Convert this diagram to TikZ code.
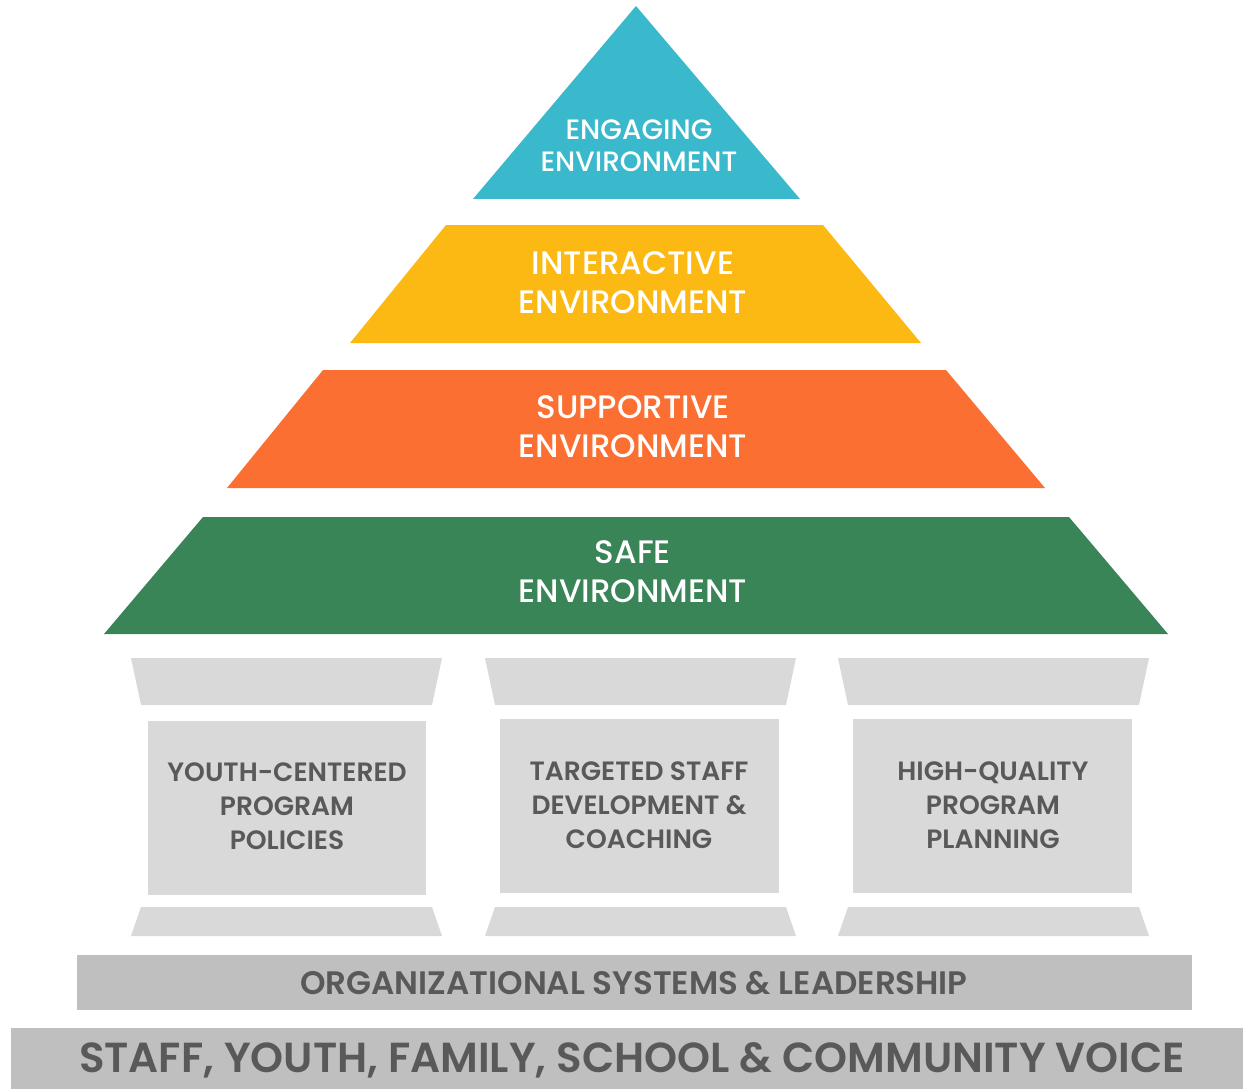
\documentclass[tikz,border=0pt]{standalone}
\usepackage{fontspec}
\setmainfont{Poppins}[UprightFont=*-Medium,BoldFont=*-SemiBold]
\definecolor{teal}{HTML}{3BB9CC}
\definecolor{gold}{HTML}{FDB913}
\definecolor{orng}{HTML}{FB6F32}
\definecolor{grn}{HTML}{3A8558}
\definecolor{pill}{HTML}{D9D9D9}
\definecolor{barg}{HTML}{BFBFBF}
\definecolor{txtg}{HTML}{595959}
\begin{document}
\begin{tikzpicture}[x=1pt,y=-1pt,
  tier/.style={font=\fontsize{32.5}{39}\selectfont, text=white, align=center},
  pilltext/.style={font=\bfseries\fontsize{26.5}{34}\selectfont, text=txtg, align=center},
  bartext/.style={font=\bfseries\fontsize{32.5}{36}\selectfont, text=txtg},
  bigtext/.style={font=\bfseries\fontsize{42}{48}\selectfont, text=txtg}]
\useasboundingbox[fill=white] (0,0) rectangle (1243,1089);
% pyramid
\fill[teal] (636,6) -- (800,199) -- (473,199) -- cycle;
\fill[gold] (446,225) -- (823,225) -- (921,343) -- (350,343) -- cycle;
\fill[orng] (323,370) -- (946,370) -- (1045,488) -- (227,488) -- cycle;
\fill[grn] (203,517) -- (1069,517) -- (1168,634) -- (104,634) -- cycle;
\node[tier, font=\fontsize{28}{32}\selectfont] (engage) at (639,146) {ENGAGING\\ENVIRONMENT};
\node[tier] (interact) at (633,283) {INTERACTIVE\\ENVIRONMENT};
\node[tier] (support) at (633,427) {SUPPORTIVE\\ENVIRONMENT};
\node[tier] (safe) at (633,572) {SAFE\\ENVIRONMENT};
% pillars
\foreach \dx/\nm in {0/p1,354/p2,707/p3}{
  \fill[pill] (131+\dx,658) -- (442+\dx,658) -- (432+\dx,705) -- (141+\dx,705) -- cycle;
  \fill[pill] (141+\dx,907) -- (432+\dx,907) -- (442+\dx,936) -- (131+\dx,936) -- cycle;
}
\fill[pill] (148,721) rectangle (426,895);
\fill[pill] (500,719) rectangle (779,893);
\fill[pill] (853,719) rectangle (1132,893);
\node[pilltext] (youth) at (287,806) {YOUTH-CENTERED\\PROGRAM\\POLICIES};
\node[pilltext] (staff) at (639,805) {TARGETED STAFF\\DEVELOPMENT \&\\COACHING};
\node[pilltext] (plan) at (993,805) {HIGH-QUALITY\\PROGRAM\\PLANNING};
% bars
\fill[barg] (77,955) rectangle (1192,1010);
\node[bartext] (org) at (634,983) {ORGANIZATIONAL SYSTEMS \& LEADERSHIP};
\fill[barg] (11,1028) rectangle (1243,1089);
\node[bigtext] (voice) at (632,1060) {STAFF, YOUTH, FAMILY, SCHOOL \& COMMUNITY VOICE};
\end{tikzpicture}
\end{document}
